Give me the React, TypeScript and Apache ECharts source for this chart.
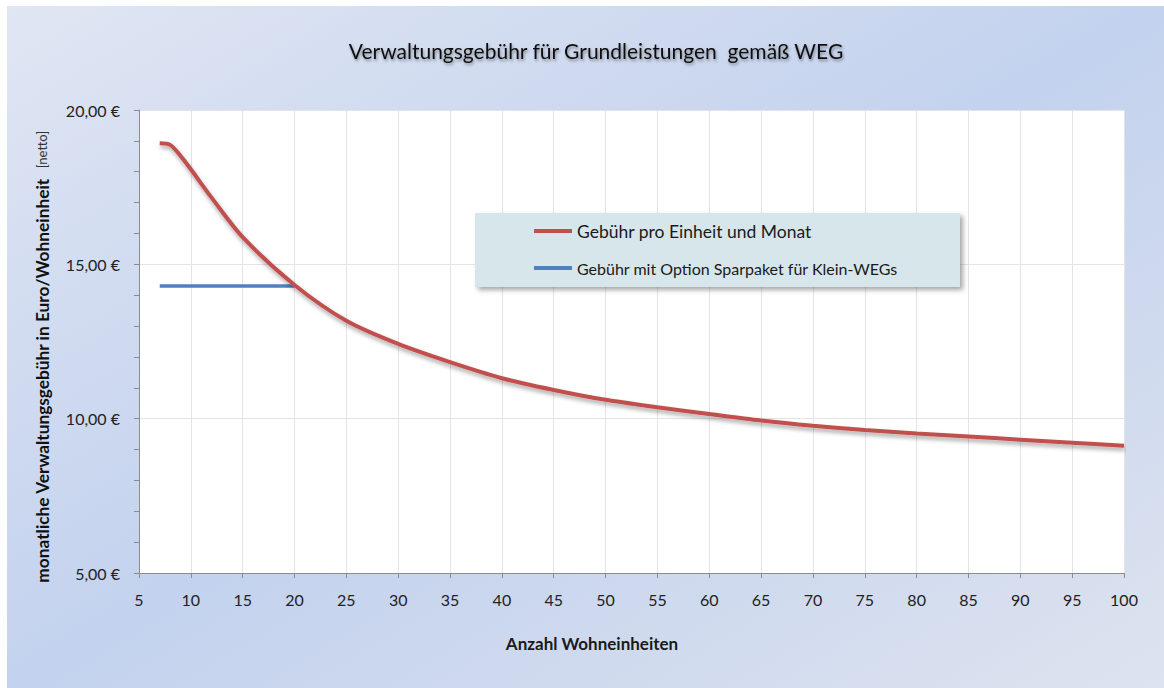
import React, { useEffect, useRef } from "react";
import * as echarts from "echarts";

const TITLE = "Verwaltungsgebühr für Grundleistungen  gemäß WEG";
const X_NAME = "Anzahl Wohneinheiten";
const Y_NAME = "monatliche Verwaltungsgebühr in Euro/Wohneinheit";
const Y_NOTE = "[netto]";
const SERIES_RED = "Gebühr pro Einheit und Monat";
const SERIES_BLUE = "Gebühr mit Option Sparpaket für Klein-WEGs";

const unitsRed = [7, 8, 9, 10, 12, 15, 20, 25, 30, 35, 40, 45, 50, 55, 60, 65, 70, 75, 80, 85, 90, 95, 100];
const feeRed = [18.92, 18.87, 18.52, 18.08, 17.16, 15.88, 14.33, 13.17, 12.42, 11.83, 11.31, 10.93, 10.61, 10.37, 10.15, 9.94, 9.77, 9.63, 9.52, 9.42, 9.32, 9.22, 9.12];
const unitsBlue = [7, 20];
const feeBlue = [14.3, 14.3];

const FONT = "Lato, 'Open Sans', sans-serif";

export default function App() {
  const ref = useRef<HTMLDivElement>(null);
  useEffect(() => {
    document.body.style.margin = "0";
    const chart = echarts.init(ref.current!, null, { renderer: "svg" });
    const red = unitsRed.map((u, i) => [u, feeRed[i]]);
    const blue = unitsBlue.map((u, i) => [u, feeBlue[i]]);
    chart.setOption({
      animation: false,
      textStyle: { fontFamily: FONT },
      graphic: [
        {
          type: "rect",
          z: -10,
          shape: { x: 7, y: 6, width: 1157, height: 682 },
          style: {
            fill: new echarts.graphic.LinearGradient(0, 0, 1, 1, [
              { offset: 0, color: "#e0e6f3" },
              { offset: 0.5, color: "#c3d2ee" },
              { offset: 1, color: "#dde3ef" },
            ]),
          },
        },
        {
          type: "rect",
          z: -9,
          shape: { x: 139, y: 110, width: 985, height: 463 },
          style: { fill: "#ffffff" },
        },
        {
          type: "text",
          z: 5,
          x: 596,
          y: 50,
          style: {
            text: TITLE,
            fontFamily: FONT,
            fontSize: 21,
            fontWeight: "normal",
            fill: "#111",
            align: "center",
            verticalAlign: "middle",
            textShadowColor: "rgba(0,0,0,0.4)",
            textShadowBlur: 3,
            textShadowOffsetX: 1,
            textShadowOffsetY: 2,
          },
        },
        {
          type: "text",
          z: 5,
          x: 592,
          y: 643,
          style: {
            text: X_NAME,
            fontFamily: FONT,
            fontSize: 17,
            fontWeight: "bold",
            fill: "#1a1a1a",
            align: "center",
            verticalAlign: "middle",
          },
        },
        {
          type: "text",
          z: 5,
          x: 42,
          y: 357,
          rotation: Math.PI / 2,
          style: {
            text: "{a|" + Y_NAME + "}   {b|" + Y_NOTE + "}",
            align: "center",
            verticalAlign: "middle",
            rich: {
              a: { fontFamily: FONT, fontSize: 17.3, fontWeight: "bold", fill: "#111" } as any,
              b: { fontFamily: FONT, fontSize: 13, fill: "#333" } as any,
            },
          } as any,
        },
        {
          type: "rect",
          z: 3,
          shape: { x: 475, y: 213, width: 485, height: 74 },
          style: {
            fill: "#d7e6eb",
            shadowColor: "rgba(0,0,0,0.35)",
            shadowBlur: 5,
            shadowOffsetX: 3,
            shadowOffsetY: 3,
          },
        },
      ],
      grid: { left: 139, right: 40, top: 110, bottom: 115, containLabel: false },
      legend: {
        z: 6,
        left: 534,
        top: 222,
        padding: 0,
        orient: "vertical",
        itemWidth: 38,
        itemHeight: 4,
        itemGap: 20,
        icon: "rect",
        data: [SERIES_RED, SERIES_BLUE],
        formatter: (n: string) => (n === SERIES_RED ? "{a|" + n + "}" : "{b|" + n + "}"),
        textStyle: {
          rich: {
            a: { fontFamily: FONT, fontSize: 17.5, color: "#1a1a1a" },
            b: { fontFamily: FONT, fontSize: 16, color: "#1a1a1a" },
          },
        },
      },
      xAxis: {
        type: "value",
        min: 5,
        max: 100,
        interval: 5,
        axisLine: { lineStyle: { color: "#8c8c8c", width: 1 } },
        axisTick: { show: true, length: 5, lineStyle: { color: "#8c8c8c" } },
        axisLabel: { color: "#222", fontSize: 16, margin: 18, fontFamily: FONT },
        splitLine: { show: true, lineStyle: { color: "#e4e4e4" } },
      },
      yAxis: {
        type: "value",
        min: 5,
        max: 20,
        interval: 5,
        axisLine: { show: true, lineStyle: { color: "#8c8c8c", width: 1 } },
        axisTick: { show: true, length: 5, lineStyle: { color: "#8c8c8c" } },
        minorTick: { show: true, splitNumber: 5, length: 5, lineStyle: { color: "#8c8c8c" } },
        axisLabel: {
          color: "#222",
          fontSize: 16,
          margin: 19,
          fontFamily: FONT,
          formatter: (v: number) => v.toFixed(2).replace(".", ",") + " €",
        },
        splitLine: { show: true, lineStyle: { color: "#e4e4e4" } },
      },
      series: [
        {
          name: SERIES_RED,
          type: "line",
          data: red,
          smooth: 0.3,
          showSymbol: false,
          symbol: "none",
          color: "#c0504d",
          lineStyle: {
            color: "#c0504d",
            width: 4,
            shadowColor: "rgba(0,0,0,0.35)",
            shadowBlur: 4,
            shadowOffsetX: 1,
            shadowOffsetY: 3,
          },
          z: 2,
        },
        {
          name: SERIES_BLUE,
          type: "line",
          data: blue,
          showSymbol: false,
          symbol: "none",
          color: "#4f81bd",
          lineStyle: { color: "#4f81bd", width: 3.5 },
          z: 1,
        },
      ],
    });
    return () => chart.dispose();
  }, []);
  return <div ref={ref} style={{ width: 1164, height: 688 }} />;
}
